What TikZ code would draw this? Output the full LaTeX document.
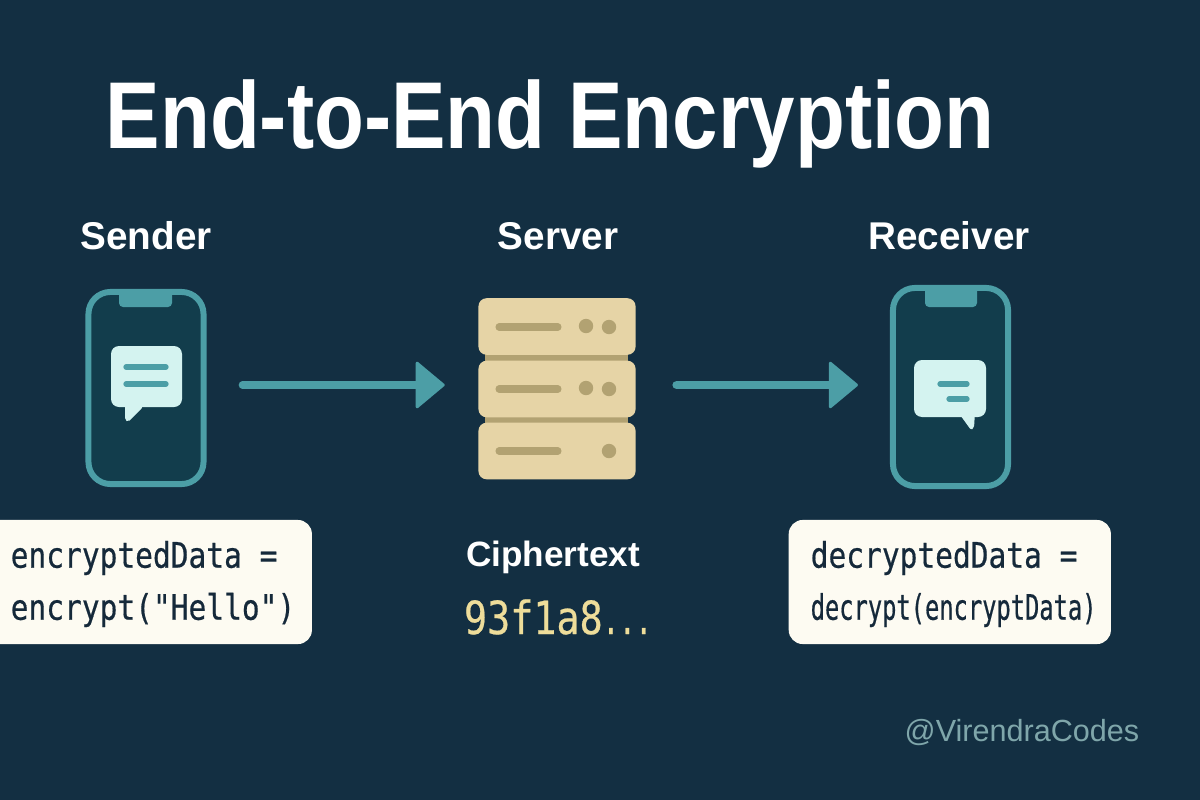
\documentclass[tikz,border=0pt]{standalone}
\usepackage{fontspec}
\usetikzlibrary{arrows.meta}
\setmainfont{Liberation Sans}
\newfontfamily\titlefont[FakeStretch=0.86]{Liberation Sans}
\newfontfamily\codefont[FakeStretch=0.84,FakeBold=0.5]{DejaVu Sans Mono}
\newfontfamily\thincode[FakeStretch=0.675,FakeBold=0.5]{DejaVu Sans Mono}
\definecolor{bgcol}{HTML}{132F42}
\definecolor{tealcol}{HTML}{4C9EA6}
\definecolor{screencol}{HTML}{123D4C}
\definecolor{bubblecol}{HTML}{D4F3F0}
\definecolor{sandcol}{HTML}{E6D4A6}
\definecolor{sanddark}{HTML}{B2A272}
\definecolor{paper}{HTML}{FDFBF2}
\definecolor{inkcol}{HTML}{15293A}
\definecolor{hexcol}{HTML}{EEDD9A}
\definecolor{handlecol}{HTML}{7FA6AA}
\tikzset{
  heading/.style={text=white, font=\bfseries\fontsize{11}{13}\selectfont},
  phone/.style={draw=tealcol, line width=1.7pt, fill=screencol, rounded corners=0.22cm,
    minimum width=1.15cm, minimum height=1.92cm, inner sep=0pt},
  codebox/.style={fill=paper, rounded corners=0.14cm, minimum height=1.24cm, inner sep=0pt},
  codetext/.style={text=inkcol, align=left, inner sep=0pt, anchor=west},
  flow/.style={draw=tealcol, line width=2.2pt, line cap=round,
    -{Triangle[length=8.5pt,width=14pt,round,line width=0.8pt]}},
  rack/.style={fill=sandcol, rounded corners=0.08cm, minimum width=1.57cm, minimum height=0.565cm, inner sep=0pt}
}
\begin{document}
\begin{tikzpicture}[x=0.01cm, y=-0.01cm]
  \useasboundingbox (0,0) rectangle (1200,800);
  \fill[bgcol] (0,0) rectangle (1200,800);

  \node[text=white, anchor=base west, inner sep=0pt, font=\titlefont\bfseries\fontsize{27}{30}\selectfont] (title) at (105,148) {End-to-End Encryption};
  \node[heading] (senderlabel) at (146,236) {Sender};
  \node[heading] (serverlabel) at (558,236) {Server};
  \node[heading] (receiverlabel) at (949,236) {Receiver};

  % sender phone
  \node[phone] (senderphone) at (146,388) {};
  \fill[tealcol] (119,291) {[rounded corners=0.04cm] -- (119,307) -- (172,307)} -- (172,291) -- cycle;
  \fill[bubblecol, rounded corners=0.02cm] (125,400) -- (143,407) -- (128,422) -- (125,420) -- cycle;
  \fill[bubblecol, rounded corners=0.08cm] (111,346) rectangle (182,407);
  \draw[tealcol, line width=1.5pt, line cap=round] (126,367) -- (166,367);
  \draw[tealcol, line width=1.5pt, line cap=round] (126,384) -- (166,384);

  % server
  \fill[sanddark] (485,350) rectangle (628,366);
  \fill[sanddark] (485,412) rectangle (628,428);
  \node[rack] (rackA) at (557,326.5) {};
  \node[rack] (rackB) at (557,389) {};
  \node[rack] (rackC) at (557,451) {};
  \foreach \y in {327,389,451} {
    \draw[sanddark, line width=2pt, line cap=round] (499,\y) -- (558,\y);
    \fill[sanddark] (609,\y) circle [radius=7.2];
  }
  \fill[sanddark] (586,326) circle [radius=7.2];
  \fill[sanddark] (586,388) circle [radius=7.2];

  % receiver phone
  \node[phone, minimum height=1.98cm] (receiverphone) at (950.5,387) {};
  \fill[tealcol] (925,290) {[rounded corners=0.04cm] -- (925,307) -- (977,307)} -- (977,290) -- cycle;
  \fill[bubblecol, rounded corners=0.02cm] (958,412) -- (975,412) -- (974,428) -- (971,430) -- cycle;
  \fill[bubblecol, rounded corners=0.08cm] (914,360) rectangle (986,417);
  \draw[tealcol, line width=1.5pt, line cap=round] (940,384) -- (967,384);
  \draw[tealcol, line width=1.5pt, line cap=round] (949,399) -- (967,399);

  \draw[flow, shorten <=0.36cm, shorten >=0.33cm] ([yshift=0.03cm]senderphone.east) -- ([yshift=0.04cm]rackB.west);
  \draw[flow, shorten <=0.4cm, shorten >=0.32cm] ([yshift=0.04cm]rackB.east) -- ([yshift=0.02cm]receiverphone.west);

  % code boxes
  \node[codebox, minimum width=3.51cm, anchor=west] (sendercode) at (-40,582) {};
  \node[codetext, font=\codefont\fontsize{10}{14.8}\selectfont] (sendertext) at (10,584) {encryptedData =\\encrypt("Hello")};
  \node[codebox, minimum width=3.22cm, anchor=west] (receivercode) at (788,582) {};
  \node[codetext, font=\codefont\fontsize{10}{14.8}\selectfont] (receivertext) at (810,584) {decryptedData =\\\thincode\fontsize{10}{14.8}\selectfont decrypt(encryptData)};

  \node[text=white, font=\bfseries\fontsize{10}{12}\selectfont] (cipherlabel) at (553,557) {Ciphertext};
  \node[text=hexcol, font=\codefont\fontsize{13}{15}\selectfont] (cipherhex) at (558,617) {93f1a8\thincode\fontsize{11.5}{15}\selectfont...};
  \node[text=handlecol, font=\fontsize{8.7}{10}\selectfont] (handle) at (1022,733) {@VirendraCodes};
\end{tikzpicture}
\end{document}
